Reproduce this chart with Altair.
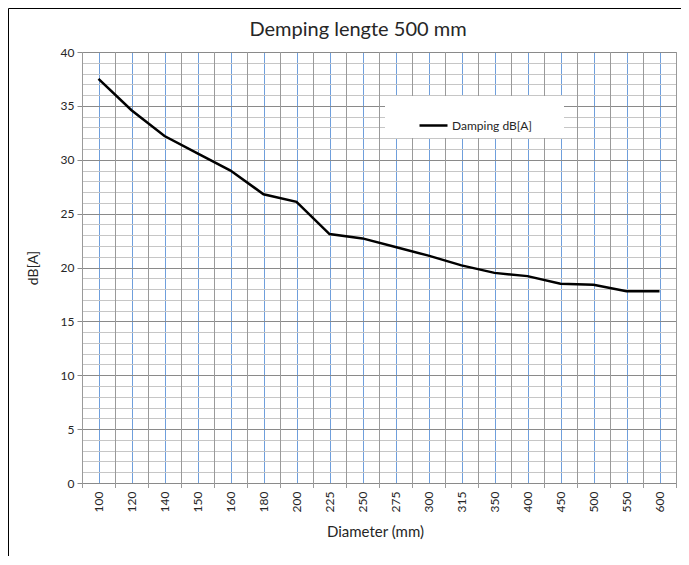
import altair as alt
import pandas as pd

# ---- data ----
sizes = ["100", "120", "140", "150", "160", "180", "200", "225", "250",
         "275", "300", "315", "350", "400", "450", "500", "550", "600"]
damping = [37.5, 34.6, 32.2, 30.6, 29.0, 26.8, 26.1, 23.1, 22.7,
           21.9, 21.1, 20.2, 19.5, 19.2, 18.5, 18.4, 17.8, 17.8]
series_name = "Damping dB[A]"
chart_title = "Demping lengte 500 mm"
y_ticks = list(range(0, 41))

df = pd.DataFrame({"size": sizes, "damping": damping, "series": [series_name] * len(sizes)})

W, H = 594, 431
PAD = {"left": 74, "top": 44, "right": 5, "bottom": 73}
STEP = W / len(sizes)
FONT = "Lato"
TXT = "#262626"
VGRAY = "#9a9a9a"

x_axis = alt.Axis(
    title="Diameter (mm)", titleFont=FONT, titleFontSize=15, titleFontWeight="normal",
    titleColor=TXT, titleX=293, titleY=48, titleBaseline="middle", titleAnchor="start",
    titleAlign="center",
    labelAngle=-90, labelAlign="right", labelBaseline="middle", labelFont=FONT,
    labelFontSize=12, labelColor=TXT, labelPadding=8,
    ticks=False, domain=True, domainColor="#8a8a8a",
    grid=True, gridColor="#6f9fdc", gridWidth=1,
)
x_enc = alt.X("size:N", sort=sizes, scale=alt.Scale(type="point", padding=0.5), axis=x_axis)

y_axis = alt.Axis(
    title="dB[A]", titleFont=FONT, titleFontSize=14, titleFontWeight="normal", titleColor=TXT,
    titleAngle=270, titleX=-49, titleY=H / 2, titleAlign="center", titleBaseline="middle",
    values=y_ticks, labelExpr="datum.value % 5 === 0 ? datum.label : ''",
    labelFont=FONT, labelFontSize=12, labelColor=TXT, labelPadding=3,
    tickSize=5, tickColor="#8a8a8a",
    tickOpacity={"condition": {"test": "datum.value % 5 === 0", "value": 1}, "value": 0},
    grid=True,
    gridColor={"condition": {"test": "datum.value % 5 === 0", "value": "#8a8a8a"}, "value": "#c6c6c6"},
    domainColor="#8a8a8a",
)

base = alt.Chart(df)

# gray vertical lines at the category boundaries (also forming the small ticks)
bounds = base.mark_rule(xOffset=-STEP / 2 + 0.5, color=VGRAY, strokeWidth=1).encode(
    x=x_enc, y=alt.value(0), y2=alt.value(H + 5)
)
one = alt.Chart(pd.DataFrame({"k": [0]}))
right_edge = one.mark_rule(color=VGRAY, strokeWidth=1).encode(
    x=alt.value(W + 0.5), y=alt.value(0), y2=alt.value(H + 5)
)

legend_bg = one.mark_rect(color="white").encode(
    x=alt.value(303), x2=alt.value(482), y=alt.value(44), y2=alt.value(86)
)

line = base.mark_line(strokeWidth=2.5).encode(
    x=x_enc,
    y=alt.Y("damping:Q", scale=alt.Scale(domain=[0, 40], nice=False), axis=y_axis),
    color=alt.Color(
        "series:N",
        scale=alt.Scale(range=["black"]),
        legend=alt.Legend(
            title=None, orient="none", legendX=336, legendY=58, padding=0,
            symbolType="stroke", symbolSize=784, symbolStrokeWidth=2.5,
            labelFont=FONT, labelFontSize=12, labelColor=TXT, labelOffset=3,
        ),
    ),
)

title_mark = one.mark_text(
    text=chart_title, font=FONT, fontSize=20, color=TXT, align="center", baseline="middle"
).encode(x=alt.value(276), y=alt.value(-22))

# outer chart frame: only the left and top edges are visible in the reference
frame_left = one.mark_rule(color="black", strokeWidth=1).encode(
    x=alt.value(-PAD["left"] + 0.5), y=alt.value(-PAD["top"] + 0.5), y2=alt.value(H + PAD["bottom"])
)
frame_top = one.mark_rule(color="black", strokeWidth=1).encode(
    x=alt.value(-PAD["left"] + 0.5), x2=alt.value(W + PAD["right"]), y=alt.value(-PAD["top"] + 0.5)
)

chart = alt.layer(bounds, right_edge, legend_bg, line, title_mark, frame_left, frame_top).properties(
    width=W, height=H,
    autosize=alt.AutoSizeParams(type="none"),
    padding=PAD,
).configure_view(stroke=None)

chart.save("out.html", embed_options={"renderer": "svg", "actions": False})
